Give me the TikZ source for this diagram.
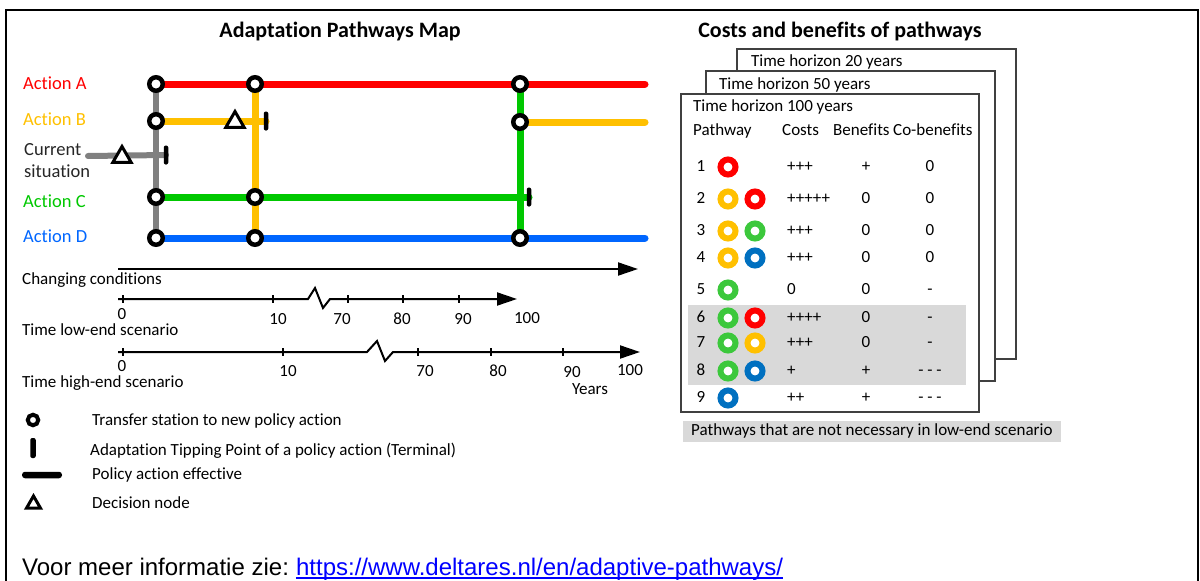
\documentclass[tikz,border=0pt]{standalone}
\usepackage{xcolor}
\usepackage{fontspec}
\setmainfont{Carlito}[Ligatures=NoCommon]
\newfontfamily\arialfont{Liberation Sans}
\usepackage{tikz}
\usetikzlibrary{shapes,arrows.meta,backgrounds}

\definecolor{actA}{HTML}{FF0000}
\definecolor{actB}{HTML}{FFC000}
\definecolor{actC}{HTML}{00C800}
\definecolor{actD}{HTML}{0066FF}
\definecolor{cursit}{HTML}{808080}
\definecolor{tabgreen}{HTML}{3CC83C}
\definecolor{tabblue}{HTML}{0070C0}
\definecolor{band}{HTML}{D9D9D9}
\definecolor{linkblue}{HTML}{0000FF}

\tikzset{
  txt/.style={font=\fontsize{17}{20}\selectfont, inner sep=0pt, text height=11pt, text depth=3pt},
  actlbl/.style={font=\fontsize{18.5}{22}\selectfont, inner sep=0pt, anchor=west, text height=12pt, text depth=3pt},
  head/.style={font=\bfseries\fontsize{22}{26}\selectfont, inner sep=0pt},
  station/.style={circle, draw=black, line width=4.5pt, fill=white, minimum size=13.5pt, inner sep=0pt},
  terminal/.style={rectangle, fill=black, rounded corners=2pt, minimum width=4.5pt, minimum height=19pt, inner sep=0pt},
  decision/.style={regular polygon, regular polygon sides=3, draw=black, line width=3pt, fill=white, minimum size=21pt, inner sep=0pt},
  route/.style={line width=7pt, line cap=round},
  axis/.style={line width=2pt, -{Triangle[length=20pt,width=13pt]}},
  tick/.style={line width=1.2pt},
  ring/.style={circle, line width=6pt, fill=white, minimum size=15pt, inner sep=0pt},
  card/.style={rectangle, draw=black!75, line width=1.5pt, fill=white, inner sep=0pt},
  web/.style={font=\arialfont\fontsize{24}{28}\selectfont, anchor=base west, inner sep=0pt},
}

\begin{document}
\begin{tikzpicture}[x=1pt,y=-1pt]
\useasboundingbox (0,0) rectangle (1200,581);

\draw[line width=2pt] (6,590) -- (6,10) -- (1198,10) -- (1198,590);

\node[head] (maptitle) at (340,32) {Adaptation Pathways Map};

\node[actlbl, text=actA] (lblA) at (23,85) {Action A};
\node[actlbl, text=actB] (lblB) at (23,121) {Action B};
\node[actlbl, text=black!85] (lblCur) at (24,151) {Current};
\node[actlbl, text=black!85] (lblSit) at (24,173) {situation};
\node[actlbl, text=actC] (lblC) at (23,203) {Action C};
\node[actlbl, text=actD] (lblD) at (23,238) {Action D};

\node[station] (a1) at (156,84) {};
\node[station] (a2) at (255,84) {};
\node[station] (a3) at (520,84) {};
\node[station] (b1) at (156,121) {};
\node[station] (b3) at (520,122) {};
\node[station] (c1) at (156,197) {};
\node[station] (c2) at (255,197) {};
\node[station] (d1) at (156,238) {};
\node[station] (d2) at (255,238) {};
\node[station] (d3) at (520,238) {};

\coordinate (aend) at (645,84);
\coordinate (bend) at (645,122);
\coordinate (dend) at (645,238);
\coordinate (cs0) at (88,156);

\node[terminal] (termB) at (266,121) {};
\node[terminal] (termCS) at (166,155) {};
\node[terminal] (termC) at (529,197) {};
\node[decision] (decB) at (235,122) {};
\node[decision] (decCS) at (122,157) {};

\begin{scope}[on background layer]
\draw[route, cursit, line width=6pt] (a1.center) -- (d1.center);
\draw[route, cursit, line width=6pt] (cs0) -- (termCS.center);
\draw[route, actB] (a2.center) -- (d2.center);
\draw[route, actC] (a3.center) -- (d3.center);
\draw[route, actA] (a1.center) -- (aend);
\draw[route, actB] (b1.center) -- (termB.center);
\draw[route, actB] (b3.center) -- (bend);
\draw[route, actC] (c1.center) -- (termC.center);
\draw[route, actD] (d1.center) -- (dend);
\end{scope}

\coordinate (cc0) at (118,269);
\coordinate (cc1) at (638,269);
\draw[axis] (cc0) -- (cc1);
\node[txt, anchor=west] (ccl) at (22,280) {Changing conditions};

\coordinate (lo0) at (118,299);
\coordinate (lo1) at (517,299);
\draw[axis] (lo0) -- (308,299) -- (315,288) -- (323,308) -- (330,299) -- (lo1);
\foreach \x in {123,273,348,403,459}
    \draw[tick] (\x,295) -- (\x,303);
\foreach \v/\x/\y in {0/122/315,10/278/320,70/342/320,80/402/320,90/463/320,100/527/319}
    \node[txt] (lo\v) at (\x,\y) {\v};
\node[txt, anchor=west] (lol) at (22,331.5) {Time low-end scenario};

\coordinate (hi0) at (118,352);
\coordinate (hi1) at (640,352);
\draw[axis] (hi0) -- (367,352) -- (377,341) -- (385,361) -- (393,352) -- (hi1);
\foreach \x in {123,283,418,491,563}
    \draw[tick] (\x,348) -- (\x,356);
\foreach \v/\x/\y in {0/122/367,10/288/372,70/425/372,80/498/372,90/572/373,100/630/371}
    \node[txt] (hi\v) at (\x,\y) {\v};
\node[txt] (years) at (590,390) {Years};
\node[txt, anchor=west] (hil) at (22,383.5) {Time high-end scenario};

\node[station, minimum size=10.5pt, line width=4pt] (legStation) at (33,420) {};
\node[terminal, minimum width=5.5pt, minimum height=20pt] (legTerm) at (33,448) {};
\node[terminal, minimum width=40pt, minimum height=6.5pt, rounded corners=3pt] (legEff) at (42,475) {};
\node[decision, minimum size=16pt, line width=3pt] (legDec) at (33.5,504) {};
\node[txt, anchor=west] (legT1) at (92,421) {Transfer station to new policy action};
\node[txt, anchor=west] (legT2) at (90,451) {Adaptation Tipping Point of a policy action (Terminal)};
\node[txt, anchor=west] (legT3) at (92,475) {Policy action effective};
\node[txt, anchor=west] (legT4) at (92,504) {Decision node};

\node[head] (cbtitle) at (840,32) {Costs and benefits of pathways};

\node[card, minimum width=279pt, minimum height=310pt] (card20) at (876.5,204) {};
\node[card, minimum width=289pt, minimum height=310pt] (card50) at (850.5,226) {};
\node[card, minimum width=298pt, minimum height=318pt] (card100) at (830,253) {};
\node[txt, anchor=west] (h20) at (751,62) {Time horizon 20 years};
\node[txt, anchor=west] (h50) at (719,85) {Time horizon 50 years};
\node[txt, anchor=west] (h100) at (693,107) {Time horizon 100 years};

\node[txt, anchor=west] (colPath) at (693,131) {Pathway};
\node[txt, anchor=west] (colCost) at (782,131) {Costs};
\node[txt, anchor=west] (colBen) at (833,131) {Benefits};
\node[txt, anchor=west] (colCob) at (893,131) {Co-benefits};

\node[fill=band, minimum width=278pt, minimum height=80pt, inner sep=0pt] (lowband) at (827,345) {};

\foreach \n/\y/\cost/\ben/\cob in {1/167/+++/+/0, 2/199/+++++/0/0, 3/231/+++/0/0, 4/258/+++/0/0, 5/290/0/0/-, 6/318/++++/0/-, 7/343/+++/0/-, 8/371/+/+/- - -, 9/398/++/+/- - -}{
    \node[txt] (num\n) at (701,\y) {\n};
    \node[txt, anchor=west] (cost\n) at (787,\y) {\cost};
    \node[txt] (ben\n) at (866,\y) {\ben};
    \node[txt] (cob\n) at (930,\y) {\cob};
}
\foreach \n/\k/\col/\y in {1/1/actA/167, 2/1/actB/199, 2/2/actA/199, 3/1/actB/231, 3/2/tabgreen/231, 4/1/actB/258, 4/2/tabblue/258, 5/1/tabgreen/290, 6/1/tabgreen/318, 6/2/actA/318, 7/1/tabgreen/343, 7/2/actB/343, 8/1/tabgreen/371, 8/2/tabblue/371, 9/1/tabblue/398}
    \node[ring, draw=\col] (p\n-\k) at ({728+27*(\k-1)},\y) {};

\node[txt, fill=band, anchor=west, inner xsep=8pt, minimum height=21pt] (bandkey) at (683,431.5) {Pathways that are not necessary in low-end scenario};

\node[web] (info) at (22,575) {Voor meer informatie zie:};
\node[web, text=linkblue] (link) at ([xshift=6.7pt]info.base east) {https://www.deltares.nl/en/adaptive-pathways/};
\draw[linkblue, line width=1.4pt] ([yshift=-3pt]link.base west) -- ([yshift=-3pt]link.base east);

\end{tikzpicture}
\end{document}
